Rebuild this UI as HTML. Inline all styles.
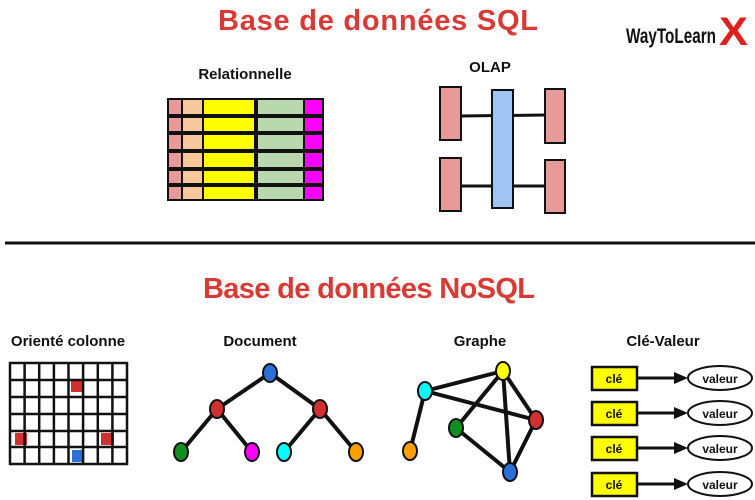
<!DOCTYPE html>
<html><head><meta charset="utf-8"><style>
html,body{margin:0;padding:0;background:#fff;}
svg{display:block;}
text{font-family:"Liberation Sans","DejaVu Sans",sans-serif;font-weight:bold;}
</style></head><body>
<svg width="755" height="500" viewBox="0 0 755 500" xmlns="http://www.w3.org/2000/svg">
<text x="218" y="30" font-size="29" fill="#d83a36" textLength="320" lengthAdjust="spacing">Base de données SQL</text>
<text x="626" y="43" font-size="21" fill="#111" textLength="90" lengthAdjust="spacingAndGlyphs">WayToLearn</text>
<text x="719" y="45" font-size="40" fill="#e0201c" textLength="29" lengthAdjust="spacingAndGlyphs">X</text>

<text x="245" y="79" font-size="15" fill="#111" text-anchor="middle">Relationnelle</text>
<g stroke="#111" stroke-width="2">
<rect x="168" y="99" width="14" height="101" fill="#e89a98"/>
<rect x="182" y="99" width="21" height="101" fill="#f8c89c"/>
<rect x="203" y="99" width="52" height="101" fill="#ffff00"/>
<rect x="257" y="99" width="47" height="101" fill="#b8d8ae"/>
<rect x="304" y="99" width="19" height="101" fill="#ff00ff"/>
</g>
<g stroke="#111" stroke-width="4">
<line x1="167" y1="116" x2="324" y2="116"/><line x1="167" y1="133" x2="324" y2="133"/>
<line x1="167" y1="151" x2="324" y2="151"/><line x1="167" y1="169" x2="324" y2="169"/>
<line x1="167" y1="185" x2="324" y2="185"/>
</g>

<text x="490" y="72" font-size="15" fill="#111" text-anchor="middle">OLAP</text>
<g stroke="#111" stroke-width="3">
<line x1="461" y1="116" x2="545" y2="115"/><line x1="461" y1="186" x2="545" y2="186"/>
</g>
<g stroke="#111" stroke-width="2">
<rect x="440" y="87" width="21" height="53" fill="#e89a98"/>
<rect x="440" y="158" width="21" height="53" fill="#e89a98"/>
<rect x="492" y="90" width="21" height="118" fill="#a0c4f4"/>
<rect x="545" y="89" width="20" height="54" fill="#e89a98"/>
<rect x="545" y="160" width="20" height="53" fill="#e89a98"/>
</g>

<line x1="5" y1="243" x2="755" y2="243" stroke="#111" stroke-width="3"/>
<text x="203" y="298" font-size="29" fill="#d83a36" textLength="332" lengthAdjust="spacing">Base de données NoSQL</text>

<text x="68" y="346" font-size="15" fill="#111" text-anchor="middle">Orienté colonne</text>
<g fill="#d03030"><rect x="71" y="380" width="13" height="12"/><rect x="15" y="433" width="12" height="12"/><rect x="101" y="433" width="13" height="12"/></g>
<rect x="72" y="450" width="12" height="12" fill="#2a70d8"/>
<g stroke="#111" stroke-width="2.5" fill="none">
<rect x="10" y="363" width="117" height="101"/>
<line x1="24.6" y1="363" x2="24.6" y2="464"/><line x1="39.2" y1="363" x2="39.2" y2="464"/><line x1="53.9" y1="363" x2="53.9" y2="464"/><line x1="68.5" y1="363" x2="68.5" y2="464"/><line x1="83.1" y1="363" x2="83.1" y2="464"/><line x1="97.8" y1="363" x2="97.8" y2="464"/><line x1="112.4" y1="363" x2="112.4" y2="464"/>
<line x1="10" y1="380" x2="127" y2="380"/><line x1="10" y1="397" x2="127" y2="397"/><line x1="10" y1="414" x2="127" y2="414"/><line x1="10" y1="431" x2="127" y2="431"/><line x1="10" y1="447" x2="127" y2="447"/>
</g>

<text x="260" y="346" font-size="15" fill="#111" text-anchor="middle">Document</text>
<g stroke="#111" stroke-width="4">
<line x1="270" y1="373" x2="217" y2="409"/><line x1="270" y1="373" x2="320" y2="409"/>
<line x1="217" y1="409" x2="181" y2="452"/><line x1="217" y1="409" x2="252" y2="452"/>
<line x1="320" y1="409" x2="284" y2="452"/><line x1="320" y1="409" x2="356" y2="452"/>
</g>
<g stroke="#111" stroke-width="2">
<ellipse cx="270" cy="373" rx="7" ry="9" fill="#2a70d8"/>
<ellipse cx="217" cy="409" rx="7" ry="9" fill="#d03030"/>
<ellipse cx="320" cy="409" rx="7" ry="9" fill="#d03030"/>
<ellipse cx="181" cy="452" rx="7" ry="9" fill="#109020"/>
<ellipse cx="252" cy="452" rx="7" ry="9" fill="#ff00ff"/>
<ellipse cx="284" cy="452" rx="7" ry="9" fill="#00ffff"/>
<ellipse cx="356" cy="452" rx="7" ry="9" fill="#ffa000"/>
</g>

<text x="480" y="346" font-size="15" fill="#111" text-anchor="middle">Graphe</text>
<g stroke="#111" stroke-width="4">
<line x1="425" y1="391" x2="503" y2="371"/><line x1="425" y1="391" x2="536" y2="420"/>
<line x1="425" y1="391" x2="410" y2="451"/><line x1="503" y1="371" x2="456" y2="428"/>
<line x1="503" y1="371" x2="510" y2="472"/><line x1="503" y1="371" x2="536" y2="420"/>
<line x1="456" y1="428" x2="510" y2="472"/><line x1="536" y1="420" x2="510" y2="472"/>
</g>
<g stroke="#111" stroke-width="2">
<ellipse cx="503" cy="371" rx="7" ry="9" fill="#ffff00"/>
<ellipse cx="425" cy="391" rx="7" ry="9" fill="#00ffff"/>
<ellipse cx="536" cy="420" rx="7" ry="9" fill="#d03030"/>
<ellipse cx="456" cy="428" rx="7" ry="9" fill="#109020"/>
<ellipse cx="410" cy="451" rx="7" ry="9" fill="#ffa000"/>
<ellipse cx="510" cy="472" rx="7" ry="9" fill="#2a70d8"/>
</g>

<text x="663" y="346" font-size="15" fill="#111" text-anchor="middle">Clé-Valeur</text>
<g id="kv">
<rect x="592" y="367" width="45" height="23" fill="#ffff00" stroke="#111" stroke-width="2.5"/>
<text x="614" y="383" font-size="12" fill="#111" text-anchor="middle">clé</text>
<line x1="637" y1="378" x2="676" y2="378" stroke="#111" stroke-width="3"/>
<polygon points="674,372 688,378 674,384" fill="#111"/>
<ellipse cx="720" cy="378" rx="32" ry="12" fill="#fff" stroke="#111" stroke-width="2"/>
<text x="720" y="383" font-size="12" fill="#111" text-anchor="middle">valeur</text>
</g>
<use href="#kv" y="35"/>
<use href="#kv" y="70"/>
<use href="#kv" y="106"/>
</svg>
</body></html>
